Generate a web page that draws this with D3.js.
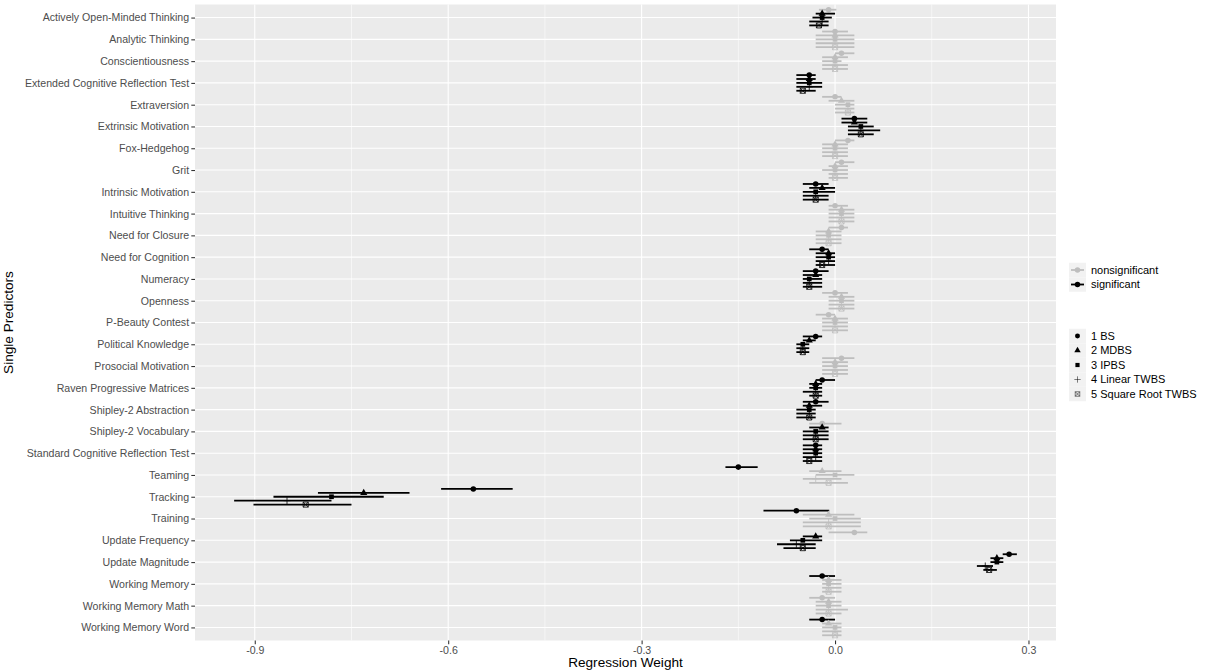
<!DOCTYPE html>
<html><head><meta charset="utf-8">
<script src="https://cdn.jsdelivr.net/npm/d3@7"></script>
<style>body{margin:0;background:#fff}text{font-family:"Liberation Sans",Arial,sans-serif}</style>
</head><body><svg id="chart" width="1205" height="672"></svg>
<script>
const categories = ["Actively Open-Minded Thinking","Analytic Thinking","Conscientiousness","Extended Cognitive Reflection Test","Extraversion","Extrinsic Motivation","Fox-Hedgehog","Grit","Intrinsic Motivation","Intuitive Thinking","Need for Closure","Need for Cognition","Numeracy","Openness","P-Beauty Contest","Political Knowledge","Prosocial Motivation","Raven Progressive Matrices","Shipley-2 Abstraction","Shipley-2 Vocabulary","Standard Cognitive Reflection Test","Teaming","Tracking","Training","Update Frequency","Update Magnitude","Working Memory","Working Memory Math","Working Memory Word"];
const models = ["1 BS","2 MDBS","3 IPBS","4 Linear TWBS","5 Square Root TWBS"];
const sigLevels = ["nonsignificant","significant"];
const xTickValues = [-0.9,-0.6,-0.3,0.0,0.3];
const xTickLabels = ["-0.9","-0.6","-0.3","0.0","0.3"];

const bsEst = [-0.01,0.00,0.01,-0.04,0.00,0.03,0.02,0.01,-0.03,0.00,0.01,-0.02,-0.03,0.00,-0.01,-0.03,0.01,-0.02,-0.03,-0.02,-0.03,-0.15,-0.561,-0.06,0.03,0.270,-0.02,-0.02,-0.02];
const bsLo  = [-0.025,-0.02,0.00,-0.06,-0.02,0.01,0.00,0.00,-0.05,-0.01,-0.01,-0.04,-0.05,-0.02,-0.03,-0.05,-0.02,-0.03,-0.05,-0.04,-0.05,-0.17,-0.611,-0.111,-0.01,0.260,-0.04,-0.04,-0.04];
const bsHi  = [0.002,0.02,0.03,-0.03,0.01,0.05,0.03,0.03,-0.01,0.02,0.02,-0.01,-0.01,0.02,0.00,-0.02,0.03,0.00,-0.01,0.01,-0.02,-0.12,-0.500,-0.009,0.05,0.282,0.00,0.00,0.00];
const bsSig = [0,0,0,1,0,1,0,0,1,0,0,1,1,0,0,1,0,1,1,0,1,1,1,1,0,1,1,0,1];

const mdEst = [-0.02,0.00,0.00,-0.04,0.01,0.03,0.00,0.00,-0.02,0.01,-0.01,-0.01,-0.03,0.01,0.00,-0.04,0.00,-0.03,-0.04,-0.02,-0.03,-0.02,-0.731,-0.01,-0.03,0.251,-0.01,-0.01,-0.01];
const mdLo  = [-0.03,-0.03,-0.02,-0.06,-0.01,0.01,-0.02,-0.01,-0.04,-0.01,-0.03,-0.03,-0.05,-0.01,-0.02,-0.05,-0.02,-0.04,-0.05,-0.04,-0.05,-0.04,-0.802,-0.05,-0.05,0.241,-0.02,-0.03,-0.02];
const mdHi  = [0.00,0.03,0.02,-0.03,0.03,0.05,0.02,0.02,0.00,0.03,0.01,0.00,-0.02,0.03,0.02,-0.03,0.02,-0.02,-0.02,-0.01,-0.02,0.01,-0.660,0.03,-0.02,0.261,0.01,0.01,0.01];
const mdSig = [1,0,0,1,0,1,0,0,1,0,0,1,1,0,0,1,0,1,1,1,1,0,1,0,1,1,0,0,0];

const ipEst = [-0.02,0.00,0.00,-0.04,0.02,0.04,0.00,0.00,-0.03,0.01,-0.01,-0.01,-0.04,0.01,0.00,-0.05,0.00,-0.03,-0.04,-0.03,-0.03,0.00,-0.781,0.00,-0.05,0.251,-0.01,-0.01,0.00];
const ipLo  = [-0.035,-0.03,-0.02,-0.06,0.00,0.02,-0.02,-0.02,-0.05,-0.01,-0.03,-0.03,-0.05,-0.01,-0.02,-0.06,-0.02,-0.04,-0.06,-0.05,-0.05,-0.03,-0.871,-0.04,-0.07,0.241,-0.02,-0.03,-0.02];
const ipHi  = [-0.005,0.03,0.01,-0.02,0.03,0.06,0.02,0.02,0.00,0.03,0.01,0.00,-0.02,0.03,0.02,-0.04,0.02,-0.02,-0.03,-0.01,-0.02,0.03,-0.700,0.04,-0.02,0.261,0.01,0.01,0.01];
const ipSig = [1,0,0,1,0,1,0,0,1,0,0,1,1,0,0,1,0,1,1,1,1,0,1,0,1,1,0,0,0];

const linEst = [-0.02,0.00,0.00,-0.04,0.02,0.04,0.00,0.00,-0.03,0.01,-0.01,-0.01,-0.04,0.01,0.00,-0.05,0.00,-0.03,-0.04,-0.03,-0.03,-0.03,-0.850,-0.01,-0.06,0.233,-0.01,-0.01,0.00];
const linLo  = [-0.04,-0.03,-0.02,-0.06,0.00,0.02,-0.02,-0.01,-0.05,-0.01,-0.03,-0.03,-0.05,-0.01,-0.02,-0.06,-0.02,-0.05,-0.06,-0.05,-0.05,-0.05,-0.932,-0.05,-0.09,0.220,-0.02,-0.03,-0.02];
const linHi  = [-0.01,0.03,0.02,-0.02,0.03,0.07,0.02,0.02,-0.01,0.03,0.01,0.00,-0.02,0.03,0.02,-0.04,0.02,-0.02,-0.03,-0.01,-0.02,0.01,-0.781,0.04,-0.03,0.245,0.01,0.02,0.01];
const linSig = [1,0,0,1,0,1,0,0,1,0,0,1,1,0,0,1,0,1,1,1,1,0,1,0,1,1,0,0,0];

const sqEst = [-0.025,0.00,0.00,-0.05,0.02,0.04,0.00,0.00,-0.03,0.01,-0.01,-0.02,-0.04,0.01,0.00,-0.05,0.00,-0.03,-0.04,-0.03,-0.04,-0.01,-0.821,-0.01,-0.05,0.239,-0.01,-0.01,0.00];
const sqLo  = [-0.04,-0.03,-0.02,-0.06,0.00,0.02,-0.02,-0.01,-0.05,-0.01,-0.03,-0.03,-0.05,-0.01,-0.02,-0.06,-0.02,-0.04,-0.06,-0.05,-0.05,-0.04,-0.902,-0.05,-0.08,0.230,-0.02,-0.03,-0.02];
const sqHi  = [-0.01,0.03,0.02,-0.03,0.03,0.06,0.02,0.02,-0.01,0.03,0.01,0.00,-0.02,0.03,0.02,-0.04,0.02,-0.02,-0.03,-0.01,-0.02,0.02,-0.750,0.04,-0.03,0.251,0.01,0.01,0.01];
const sqSig = [1,0,0,1,0,1,0,0,1,0,0,1,1,0,0,1,0,1,1,1,1,0,1,0,1,1,0,0,0];

const seriesEst = [bsEst, mdEst, ipEst, linEst, sqEst];
const seriesLo = [bsLo, mdLo, ipLo, linLo, sqLo];
const seriesHi = [bsHi, mdHi, ipHi, linHi, sqHi];
const seriesSig = [bsSig, mdSig, ipSig, linSig, sqSig];

const rows = [];
models.forEach((m, mi) => {
  categories.forEach((c, ci) => {
    rows.push({cat: c, model: m, est: seriesEst[mi][ci], lo: seriesLo[mi][ci], hi: seriesHi[mi][ci], sig: sigLevels[seriesSig[mi][ci]]});
  });
});

const svg = d3.select("#chart");
const P = {left: 195, right: 1056, top: 4.5, bottom: 640.5};

const xmin = d3.min(rows, d => d.lo), xmax = d3.max(rows, d => d.hi);
const pad = (xmax - xmin) * 0.05;
const x = d3.scaleLinear().domain([xmin - pad, xmax + pad]).range([P.left, P.right]);
const y = d3.scalePoint().domain(categories).range([P.top, P.bottom]).padding(0.6);
const step = y.step();
const dodge = d3.scaleBand().domain(models).range([-0.45 * step, 0.45 * step]);
const color = d3.scaleOrdinal().domain(sigLevels).range(["#bebebe", "#000000"]);

// custom symbols
const plusSym = {draw(ctx, size){ const r = Math.sqrt(size) * 0.75; ctx.moveTo(-r,0); ctx.lineTo(r,0); ctx.moveTo(0,-r); ctx.lineTo(0,r);} };
const sqCrossSym = {draw(ctx, size){ const r = Math.sqrt(size) / 2; ctx.moveTo(-r,-r); ctx.lineTo(r,-r); ctx.lineTo(r,r); ctx.lineTo(-r,r); ctx.closePath(); ctx.moveTo(-r,-r); ctx.lineTo(r,r); ctx.moveTo(r,-r); ctx.lineTo(-r,r);} };
const shapeType = d3.scaleOrdinal().domain(models).range([d3.symbolCircle, d3.symbolTriangle, d3.symbolSquare, plusSym, sqCrossSym]);
const shapeSize = d3.scaleOrdinal().domain(models).range([24, 22, 22, 22, 26]);
const shapeFilled = d3.scaleOrdinal().domain(models).range([true, true, true, false, false]);

// panel
svg.append("rect").attr("x", P.left).attr("y", P.top).attr("width", P.right - P.left).attr("height", P.bottom - P.top).attr("fill", "#ebebeb");

const majors = xTickValues;
const minors = [];
for (let i = 0; i < majors.length - 1; i++) minors.push((majors[i] + majors[i+1]) / 2);
minors.push(majors[0] - 0.15);
svg.append("g").selectAll("line").data(minors.filter(v => x(v) > P.left && x(v) < P.right)).join("line")
  .attr("x1", d => x(d)).attr("x2", d => x(d)).attr("y1", P.top).attr("y2", P.bottom)
  .attr("stroke", "#fff").attr("stroke-width", 0.55);
svg.append("g").selectAll("line").data(majors).join("line")
  .attr("x1", d => x(d)).attr("x2", d => x(d)).attr("y1", P.top).attr("y2", P.bottom)
  .attr("stroke", "#fff").attr("stroke-width", 1.1);
svg.append("g").selectAll("line").data(categories).join("line")
  .attr("x1", P.left).attr("x2", P.right).attr("y1", d => y(d)).attr("y2", d => y(d))
  .attr("stroke", "#fff").attr("stroke-width", 1.1);

// marks
const marks = svg.append("g");
const yPos = d => y(d.cat) + dodge(d.model) + dodge.bandwidth() / 2;
rows.forEach(d => {
  const g = marks.append("g");
  g.append("line").attr("x1", x(d.lo)).attr("x2", x(d.hi)).attr("y1", yPos(d)).attr("y2", yPos(d))
    .attr("stroke", color(d.sig)).attr("stroke-width", 1.8);
  const filled = shapeFilled(d.model);
  g.append("path").attr("d", d3.symbol().type(shapeType(d.model)).size(shapeSize(d.model))())
    .attr("transform", `translate(${x(d.est)},${yPos(d)})`)
    .attr("fill", filled ? color(d.sig) : "none")
    .attr("stroke", color(d.sig)).attr("stroke-width", filled ? 0 : 0.8);
});

// axes
const fontTick = "10.6px";
const xAxis = d3.axisBottom(x).tickValues(xTickValues).tickFormat((d, i) => xTickLabels[i]).tickSize(3.7).tickPadding(2.2);
const gx = svg.append("g").attr("transform", `translate(0,${P.bottom})`).call(xAxis);
gx.select(".domain").remove();
gx.selectAll(".tick line").attr("stroke", "#333333").attr("stroke-width", 1.07);
gx.selectAll(".tick text").attr("fill", "#4d4d4d").style("font-size", fontTick).style("font-family", "Liberation Sans, Arial, sans-serif");

const yAxis = d3.axisLeft(y).tickSize(3.7).tickPadding(2.2);
const gy = svg.append("g").attr("transform", `translate(${P.left},0)`).call(yAxis);
gy.select(".domain").remove();
gy.selectAll(".tick line").attr("stroke", "#333333").attr("stroke-width", 1.07);
gy.selectAll(".tick text").attr("fill", "#4d4d4d").style("font-size", fontTick).style("font-family", "Liberation Sans, Arial, sans-serif");

svg.append("text").attr("x", (P.left + P.right) / 2).attr("y", 666.5).attr("text-anchor", "middle")
  .style("font-size", "13.6px").attr("fill", "#000").text("Regression Weight");
svg.append("text").attr("transform", `translate(13,${(P.top + P.bottom) / 2}) rotate(-90)`).attr("text-anchor", "middle")
  .style("font-size", "13.6px").attr("fill", "#000").text("Single Predictors");

// legends
const keyX = 1069, keyW = 17, keyH = 14.5;
const lg1 = svg.append("g");
sigLevels.forEach((s, i) => {
  const cy = 270 + i * keyH;
  lg1.append("rect").attr("x", keyX).attr("y", cy - keyH / 2).attr("width", keyW).attr("height", keyH).attr("fill", "#f2f2f2");
  lg1.append("line").attr("x1", keyX + 2).attr("x2", keyX + keyW - 2).attr("y1", cy).attr("y2", cy).attr("stroke", color(s)).attr("stroke-width", 1.8);
  lg1.append("path").attr("d", d3.symbol().type(d3.symbolCircle).size(24)()).attr("transform", `translate(${keyX + keyW / 2},${cy})`).attr("fill", color(s));
  lg1.append("text").attr("x", 1091).attr("y", cy).attr("dy", "0.35em").style("font-size", "11px").attr("fill", "#000").text(s);
});
const lg2 = svg.append("g");
models.forEach((m, i) => {
  const cy = 336 + i * keyH;
  lg2.append("rect").attr("x", keyX).attr("y", cy - keyH / 2).attr("width", keyW).attr("height", keyH).attr("fill", "#f2f2f2");
  const filled = shapeFilled(m);
  lg2.append("path").attr("d", d3.symbol().type(shapeType(m)).size(shapeSize(m) * 0.8)())
    .attr("transform", `translate(${keyX + keyW / 2},${cy})`)
    .attr("fill", filled ? "#000" : "none").attr("stroke", "#000").attr("stroke-width", filled ? 0 : 0.7).attr("stroke-opacity", filled ? 1 : 0.7);
  lg2.append("text").attr("x", 1091).attr("y", cy).attr("dy", "0.35em").style("font-size", "11px").attr("fill", "#000").text(m);
});
</script></body></html>
